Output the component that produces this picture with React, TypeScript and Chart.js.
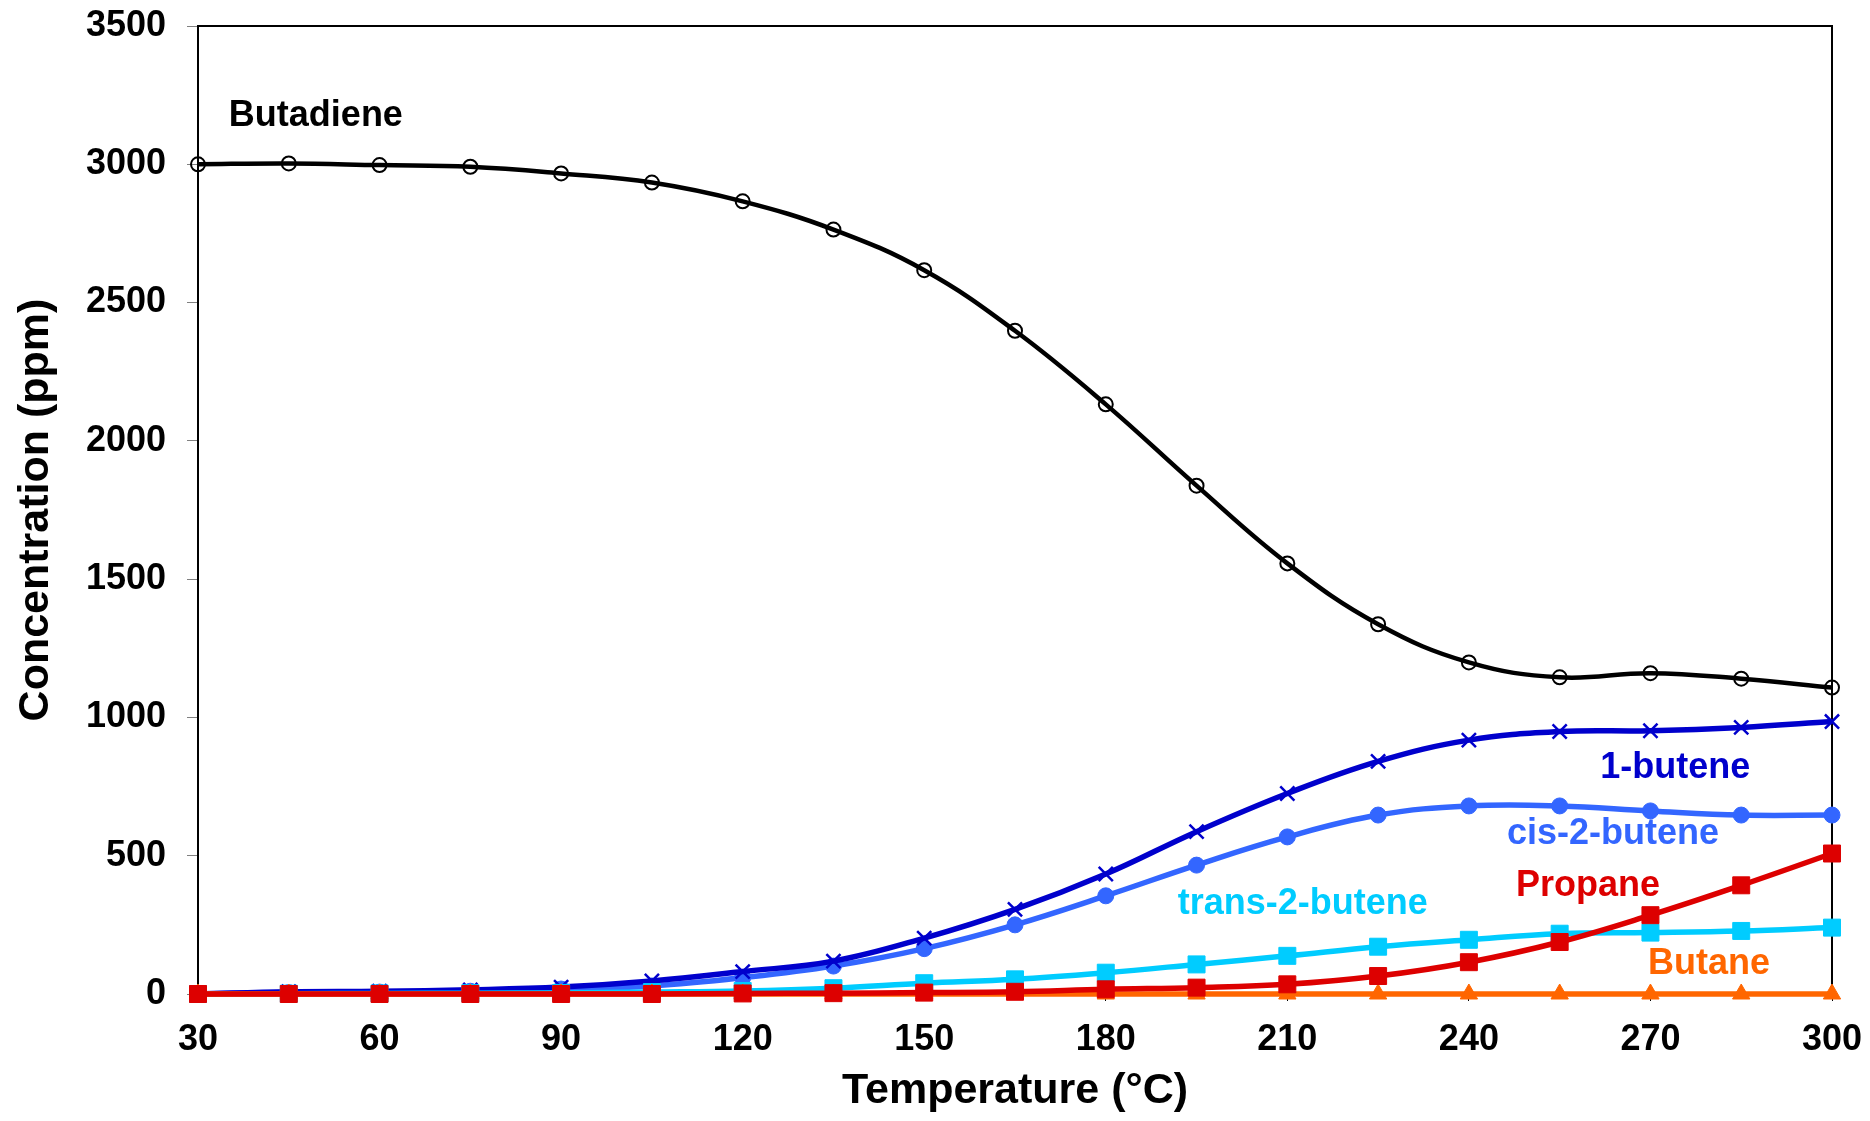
import React, { useEffect, useRef } from "react";
import { Chart, registerables } from "chart.js";

Chart.register(...registerables);

const temps = [30, 45, 60, 75, 90, 105, 120, 135, 150, 165, 180, 195, 210, 225, 240, 255, 270, 285, 300];
const butadiene = [3000, 3003, 2997, 2991, 2967, 2934, 2866, 2764, 2617, 2398, 2132, 1838, 1557, 1337, 1199, 1145, 1160, 1140, 1108];
const butene1 = [0, 8, 10, 15, 25, 47, 81, 119, 202, 306, 434, 587, 725, 841, 918, 949, 952, 964, 985];
const cis2butene = [0, 5, 7, 10, 18, 29, 59, 101, 164, 250, 355, 466, 568, 647, 680, 680, 662, 647, 647];
const trans2butene = [0, 1, 2, 3, 4, 7, 11, 21, 39, 53, 77, 107, 138, 171, 196, 218, 222, 228, 240];
const propane = [0, 0, 0, 0, 0, 0, 2, 3, 5, 8, 17, 23, 35, 65, 115, 188, 285, 393, 508];
const butane = [0, 0, 0, 0, 0, 0, 0, 0, 0, 0, 0, 0, 0, 0, 0, 0, 0, 0, 0];

const xTicks = [30, 60, 90, 120, 150, 180, 210, 240, 270, 300];
const yTicks = [0, 500, 1000, 1500, 2000, 2500, 3000, 3500];

const seriesLabels = ["Butadiene", "1-butene", "cis-2-butene", "trans-2-butene", "Propane", "Butane"];
const labelX = [35.1, 261.7, 246.3, 191.9, 247.8, 269.6];
const labelY = [3174, 818, 579, 326, 391, 109];
const colors = ["#000000", "#0000CC", "#3366FF", "#00CCFF", "#DD0000", "#FF6600"];

const toPts = (vals: number[]) => vals.map((v, i) => ({ x: temps[i], y: v }));

const boxPlugin = {
  id: "box",
  beforeDatasetsDraw(chart: any) {
    const { ctx, chartArea } = chart;
    ctx.save();
    ctx.strokeStyle = "#000";
    ctx.lineWidth = 2;
    ctx.beginPath();
    ctx.moveTo(chartArea.left, chartArea.top);
    ctx.lineTo(chartArea.right, chartArea.top);
    ctx.lineTo(chartArea.right, chartArea.bottom);
    ctx.stroke();
    ctx.restore();
  },
};

const labelPlugin = {
  id: "seriesLabels",
  afterDatasetsDraw(chart: any) {
    const { ctx, scales } = chart;
    ctx.save();
    ctx.font = "bold 36px 'Liberation Sans', Arial, sans-serif";
    ctx.textAlign = "left";
    ctx.textBaseline = "middle";
    seriesLabels.forEach((t, i) => {
      ctx.fillStyle = colors[i];
      ctx.fillText(t, scales.x.getPixelForValue(labelX[i]), scales.y.getPixelForValue(labelY[i]));
    });
    ctx.restore();
  },
};

export default function App() {
  const ref = useRef<HTMLCanvasElement>(null);
  useEffect(() => {
    if (!ref.current) return;
    const mk = (label: string, vals: number[], color: string, style: any, radius: number, bw: number, fill: string, lw: number, order: number) => ({
      label,
      data: toPts(vals),
      borderColor: color,
      backgroundColor: fill,
      pointBackgroundColor: fill,
      pointBorderColor: color,
      pointStyle: style,
      pointRadius: radius,
      pointBorderWidth: bw,
      borderWidth: lw,
      tension: 0.4,
      order,
      clip: false as any,
    });
    const chart = new Chart(ref.current, {
      type: "line",
      data: {
        datasets: [
          mk("Butadiene", butadiene, colors[0], "circle", 7, 2, "rgba(255,255,255,0)", 4.5, 5),
          mk("1-butene", butene1, colors[1], "crossRot", 10, 2.5, colors[1], 5.5, 3),
          mk("cis-2-butene", cis2butene, colors[2], "circle", 8, 1, colors[2], 5.5, 4),
          mk("trans-2-butene", trans2butene, colors[3], "rect", 12, 1, colors[3], 5.5, 2),
          mk("Butane", butane, colors[5], "triangle", 10, 1, colors[5], 5.5, 1),
          mk("Propane", propane, colors[4], "rect", 12, 1, colors[4], 5.5, 0),
        ],
      },
      options: {
        animation: false,
        responsive: false,
        devicePixelRatio: 1,
        layout: { padding: { left: 0, right: 38, top: 26, bottom: 0 } },
        plugins: { legend: { display: false }, tooltip: { enabled: false } },
        scales: {
          x: {
            type: "linear",
            min: 30,
            max: 300,
            afterFit: (s: any) => {
              s.height = 127;
              s.paddingLeft = 0;
              s.paddingRight = 0;
              s.paddingTop = 0;
              s.paddingBottom = 0;
            },
            afterBuildTicks: (s: any) => { s.ticks = xTicks.map((v) => ({ value: v })); },
            border: { display: true, color: "#000", width: 2 },
            grid: { display: true, drawOnChartArea: false, drawTicks: true, tickLength: 7, color: "#000" },
            ticks: {
              padding: 17,
              color: "#000",
              font: { family: "'Liberation Sans Narrow', 'Liberation Sans', Arial, sans-serif", size: 36, weight: "bold" },
              maxRotation: 0,
              callback: (v: any) => String(v),
            },
            title: {
              display: true,
              text: "Temperature (°C)",
              color: "#000",
              font: { family: "'Liberation Sans', Arial, sans-serif", size: 43, weight: "bold" },
              padding: { top: 0, bottom: 4 },
            },
          },
          y: {
            min: 0,
            max: 3500,
            afterFit: (s: any) => {
              s.width = 198;
              s.paddingLeft = 0;
              s.paddingRight = 0;
              s.paddingTop = 0;
              s.paddingBottom = 0;
            },
            afterBuildTicks: (s: any) => { s.ticks = yTicks.map((v) => ({ value: v })); },
            border: { display: true, color: "#000", width: 2 },
            grid: { display: true, drawOnChartArea: false, drawTicks: true, tickLength: 11, color: "#808080" },
            ticks: {
              padding: 21,
              color: "#000",
              font: { family: "'Liberation Sans', Arial, sans-serif", size: 36, weight: "bold" },
              callback: (v: any) => String(v),
            },
            title: {
              display: true,
              text: "Concentration (ppm)",
              color: "#000",
              font: { family: "'Liberation Sans', Arial, sans-serif", size: 43, weight: "bold" },
              padding: { top: 10, bottom: 0 },
            },
          },
        },
      },
      plugins: [boxPlugin, labelPlugin],
    });
    return () => chart.destroy();
  }, []);
  return (
    <div style={{ position: "absolute", left: 0, top: 0, width: 1870, height: 1121, background: "#fff" }}>
      <canvas ref={ref} width={1870} height={1121} style={{ width: 1870, height: 1121, display: "block" }} />
    </div>
  );
}
